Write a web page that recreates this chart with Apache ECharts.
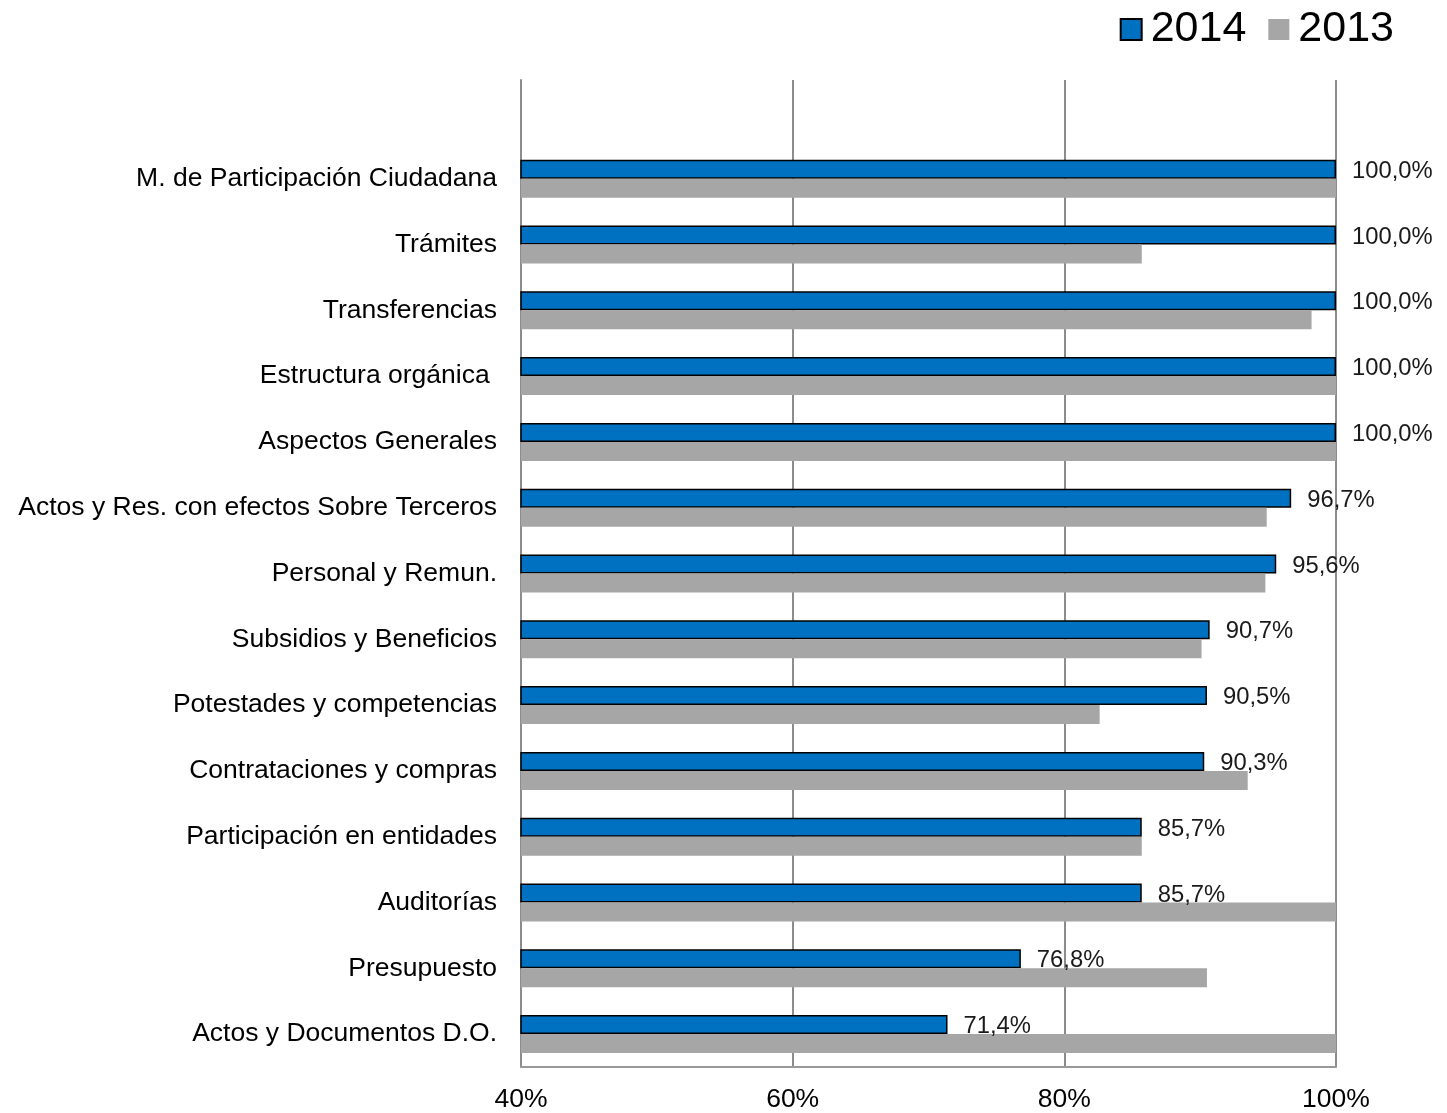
<!DOCTYPE html>
<html lang="es">
<head>
	<meta charset="UTF-8">
	<title>Cumplimiento por materia 2014 vs 2013</title>
	<style type="text/css">
		html, body{ margin:0; padding:0; background:#fff; }
		#chart{ width:1447px; height:1113px; }
	</style>
</head>
<body>
	<div id="chart"></div>
	<script type="text/javascript" src="https://cdn.jsdelivr.net/npm/echarts@6/dist/echarts.min.js"></script>
	<script type="text/javascript">
		// categorias (de arriba hacia abajo), la primera vacia como en el original
		var categorias = ['', 'M. de Participación Ciudadana', 'Trámites', 'Transferencias', 'Estructura orgánica ',
			'Aspectos Generales', 'Actos y Res. con efectos Sobre Terceros', 'Personal y Remun.',
			'Subsidios y Beneficios', 'Potestades y competencias', 'Contrataciones y compras',
			'Participación en entidades', 'Auditorías', 'Presupuesto', 'Actos y Documentos D.O.'];
		var valores2014 = ['-', 100, 100, 100, 100, 100, 96.7, 95.6, 90.7, 90.5, 90.3, 85.7, 85.7, 76.8, 71.4];
		var valores2013 = ['-', 100, 85.7, 98.2, 100, 100, 94.9, 94.8, 90.1, 82.6, 93.5, 85.7, 100, 90.5, 100];
		var ticksX = [40, 60, 80, 100];

		var fuente = 'Liberation Sans, Arial, sans-serif';
		var myChart = echarts.init(document.getElementById('chart'));

		var option = {
			animation: false,
			textStyle: { fontFamily: fuente },
			legend: {
				right: 48,
				top: 3,
				itemWidth: 21,
				itemHeight: 21,
				itemGap: 22,
				textStyle: { fontSize: 43, color: '#000', fontFamily: fuente, padding: [0, 0, 0, 4] },
				data: [
					{ name: '2014', icon: 'rect' },
					{ name: '2013', icon: 'rect' }
				]
			},
			grid: { left: 521, right: 111, top: 80, bottom: 44 },
			xAxis: {
				type: 'value',
				min: ticksX[0],
				max: ticksX[ticksX.length - 1],
				interval: 20,
				axisLine: { show: true, lineStyle: { color: '#999', width: 2 } },
				axisTick: { show: false },
				splitLine: { show: true, lineStyle: { color: '#8c8c8c', width: 2 } },
				axisLabel: {
					formatter: '{value}%',
					fontSize: 26.5,
					color: '#000',
					margin: 19,
					fontFamily: fuente
				}
			},
			yAxis: {
				type: 'category',
				inverse: true,
				data: categorias,
				axisLine: { show: true, lineStyle: { color: '#8c8c8c', width: 2 } },
				axisTick: { show: false },
				axisLabel: { fontSize: 26.5, color: '#000', margin: 24, fontFamily: fuente }
			},
			series: [
				{
					name: '2014',
					type: 'bar',
					data: valores2014,
					barWidth: 19,
					barGap: '0%',
					itemStyle: { color: '#0070C0', borderColor: '#000', borderWidth: 1.5 },
					label: {
						show: true,
						position: 'right',
						distance: 16,
						offset: [0, 2],
						fontSize: 23.8,
						color: '#1a1a1a',
						fontFamily: fuente,
						formatter: function (p) {
							return p.value.toFixed(1).replace('.', ',') + '%';
						}
					}
				},
				{
					name: '2013',
					type: 'bar',
					data: valores2013,
					barWidth: 19,
					barGap: '0%',
					itemStyle: { color: '#A6A6A6' }
				}
			]
		};
		myChart.setOption(option);
	</script>
</body>
</html>
